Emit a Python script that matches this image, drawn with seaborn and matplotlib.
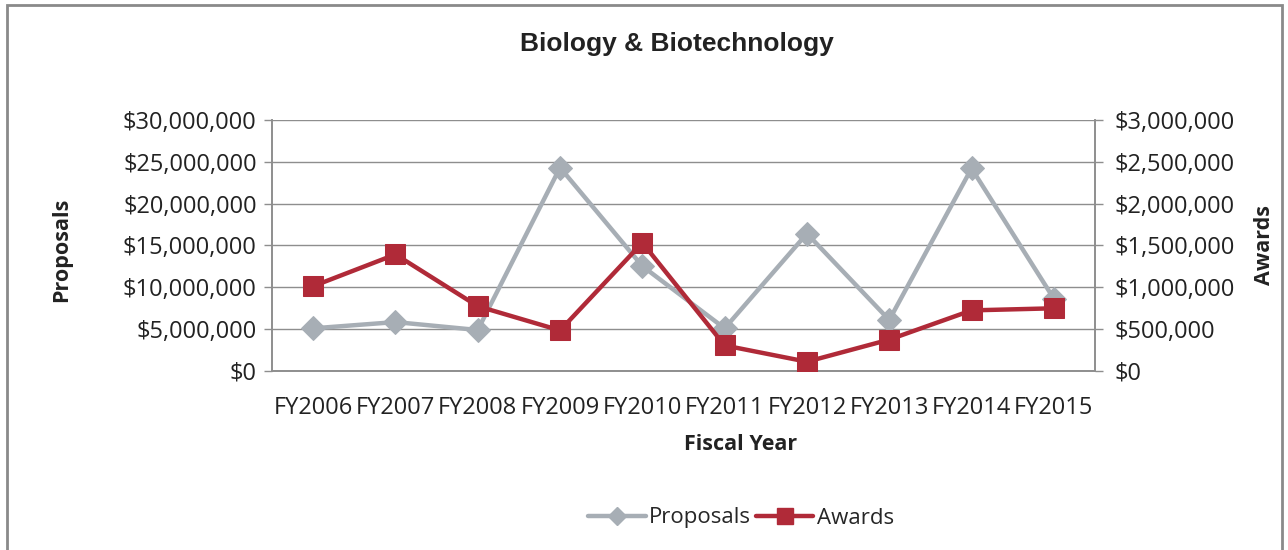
import matplotlib
matplotlib.use("Agg")
import matplotlib.pyplot as plt
import seaborn as sns
import pandas as pd
import numpy as np
from matplotlib.ticker import FuncFormatter, FixedLocator, MultipleLocator
from matplotlib.lines import Line2D
from matplotlib.patches import Rectangle

years = ["FY2006", "FY2007", "FY2008", "FY2009", "FY2010",
         "FY2011", "FY2012", "FY2013", "FY2014", "FY2015"]
proposals = [5.05e6, 5.8e6, 4.85e6, 24.3e6, 12.5e6, 5.05e6, 16.4e6, 6.05e6, 24.2e6, 8.6e6]
awards = [1.01e6, 1.39e6, 0.77e6, 0.48e6, 1.53e6, 0.30e6, 0.105e6, 0.37e6, 0.72e6, 0.745e6]

title = "Biology & Biotechnology"
xlabel = "Fiscal Year"
ylabel_left = "Proposals"
ylabel_right = "Awards"

GRAY = "#A7AEB5"
RED = "#B02A38"
GRID = "#8E8E8E"
FONT = "Open Sans"
TXT = "#222222"
TS = 17

sns.set_theme(style="white")
plt.rcParams["font.family"] = [FONT, "DejaVu Sans"]

df = pd.DataFrame({"year": years, "x": np.arange(len(years)),
                   "Proposals": proposals, "Awards": awards})

fig = plt.figure(figsize=(12.88, 5.5), dpi=100)
ax = fig.add_axes([272/1288, 1-370.5/550, (1095-272)/1288, (370.5-120)/550])
ax2 = ax.twinx()

ax.set_zorder(1)
ax2.set_zorder(2)
ax2.patch.set_visible(False)

sns.lineplot(data=df, x="x", y="Proposals", ax=ax, color=GRAY, lw=3.2,
             marker="D", markersize=12, markeredgecolor=GRAY, legend=False, zorder=3)
sns.lineplot(data=df, x="x", y="Awards", ax=ax2, color=RED, lw=3.2,
             marker="s", markersize=14, markeredgecolor=RED, legend=False, zorder=4)

money = FuncFormatter(lambda v, p: "${:,.0f}".format(v))
ax.set_ylim(0, 30e6)
ax2.set_ylim(0, 3e6)
ax.yaxis.set_major_locator(MultipleLocator(5e6))
ax2.yaxis.set_major_locator(MultipleLocator(5e5))
ax.yaxis.set_major_formatter(money)
ax2.yaxis.set_major_formatter(money)
ax.set_xlim(-0.5, len(years) - 0.5)

ax.set_xticks(np.arange(len(years)))
ax.set_xticklabels(years)
ax.xaxis.set_minor_locator(FixedLocator(np.arange(-0.5, len(years), 1.0)))
ax.tick_params(axis="x", which="major", length=0, labelsize=TS, pad=18, colors=TXT)
ax.tick_params(axis="x", which="minor", length=6, color=GRID, width=1, direction="out")
ax.tick_params(axis="y", length=6, color=GRID, width=1, direction="out", labelsize=TS,
               colors=TXT, pad=5)
ax2.tick_params(axis="y", length=6, color=GRID, width=1, direction="out", labelsize=TS,
                colors=TXT, pad=8)
for a in (ax, ax2):
    a.yaxis.set_tick_params(color=GRID)

ax.grid(axis="y", color=GRID, lw=1)
ax.grid(axis="x", visible=False)
for a in (ax, ax2):
    for s in a.spines.values():
        s.set_color(GRID)
        s.set_linewidth(1.2)
    a.spines["top"].set_visible(False)
ax2.grid(False)

ax.set_xlabel(xlabel, fontsize=15.5, fontweight="bold", color=TXT, va="center")
ax.xaxis.set_label_coords((741 - 272) / 823, (370.5 - 445) / 250.5)
ax.set_ylabel(ylabel_left, fontsize=15.5, fontweight="bold", color=TXT, va="center")
ax.yaxis.set_label_coords((62 - 272) / 823, (370.5 - 250) / 250.5)
ax2.set_ylabel(ylabel_right, fontsize=15.5, fontweight="bold", labelpad=14, color=TXT)
ax2.set_xlabel("")

fig.text(677/1288, 1-44/550, title, ha="center", va="center", fontsize=19,
         fontweight="bold", family=["Liberation Sans", "DejaVu Sans"], color=TXT)

handles = [Line2D([], [], color=GRAY, lw=3.2, marker="D", markersize=9, markeredgecolor=GRAY),
           Line2D([], [], color=RED, lw=3.2, marker="s", markersize=11, markeredgecolor=RED)]
fig.legend(handles, [ylabel_left, ylabel_right], loc="center", bbox_to_anchor=(741/1288, 1-518/550),
           ncol=2, frameon=False, fontsize=16, handlelength=2.6, columnspacing=0.2,
           handletextpad=0.15)

fig.patches.append(Rectangle((7/1288, -0.02), (1282-7)/1288, 1-5/550+0.02,
                             transform=fig.transFigure, fill=False, edgecolor="#8A8A8A",
                             lw=2, zorder=0))

fig.savefig("out.png", dpi=100, facecolor="white")
